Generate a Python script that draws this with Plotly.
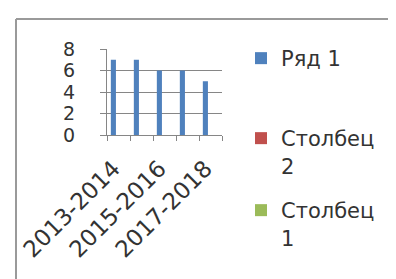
import plotly.graph_objects as go

categories = ["2013-2014", "2014-2015", "2015-2016", "2016-2017", "2017-2018"]
tick_labels = ["2013-2014", "", "2015-2016", "", "2017-2018"]
series_names = ["Ряд 1", "Столбец<br>2", "Столбец<br>1"]
series1 = [7, 7, 6, 6, 5]
series2 = [None, None, None, None, None]
series3 = [None, None, None, None, None]
colors = ["#4F81BD", "#C0504D", "#9BBB59"]

W, H = 396, 279
ML, MR, MT, MB = 99, 182, 41, 152
PW = W - ML - MR
PH = H - MT - MB

def px_x(p):
    return (p - ML) / PW

def px_y(p):
    return 1 - (p - MT) / PH

FONT = "DejaVu Sans"
TXT = "#333333"

fig = go.Figure()
for i, (name, vals) in enumerate(zip(series_names, [series1, series2, series3])):
    fig.add_trace(go.Bar(
        x=categories, y=vals, name=name,
        marker=dict(color=colors[i], line=dict(width=0)),
        legend="legend" if i == 0 else f"legend{i+1}",
    ))

legend_common = dict(
    xanchor="left", yanchor="top", bgcolor="rgba(0,0,0,0)",
    font=dict(family=FONT, size=21, color=TXT), valign="top",
)
fig.update_layout(
    width=W, height=H,
    margin=dict(l=ML, r=MR, t=MT, b=MB, autoexpand=False),
    paper_bgcolor="white", plot_bgcolor="white",
    barmode="group", bargap=1.5 / 4.5, bargroupgap=0,
    showlegend=True,
    legend=dict(x=px_x(233), y=px_y(30), **legend_common),
    legend2=dict(x=px_x(233), y=px_y(110), **legend_common),
    legend3=dict(x=px_x(233), y=px_y(182), **legend_common),
    font=dict(family=FONT, color=TXT),
    xaxis=dict(
        type="category", tickson="boundaries",
        tickmode="array", tickvals=categories, ticktext=tick_labels,
        tickangle=-45, ticks="outside", ticklen=5, tickcolor="#868686",
        showline=True, linecolor="#868686", linewidth=1,
        showgrid=False, tickfont=dict(family=FONT, size=23, color=TXT),
        ticklabelstandoff=10, ticklabelshift=-5, automargin=False,
    ),
    yaxis=dict(
        range=[0, 8], dtick=2, tick0=0,
        ticks="outside", ticklen=6, tickcolor="#868686",
        showline=True, linecolor="#868686", linewidth=1,
        showgrid=True, gridcolor="#868686", gridwidth=1, zeroline=False,
        tickfont=dict(family=FONT, size=19, color=TXT),
        ticklabelstandoff=21, automargin=False,
    ),
)

# chart frame
fig.add_shape(type="line", xref="paper", yref="paper",
              x0=px_x(8), x1=px_x(8), y0=px_y(11), y1=px_y(285),
              line=dict(color="#9a9a9a", width=2))
fig.add_shape(type="line", xref="paper", yref="paper",
              x0=px_x(8), x1=px_x(392), y0=px_y(11), y1=px_y(11),
              line=dict(color="#9a9a9a", width=2))
fig.add_shape(type="line", xref="paper", yref="paper",
              x0=px_x(392), x1=px_x(392), y0=px_y(11), y1=px_y(285),
              line=dict(color="#e4e4e4", width=1))

fig.write_html("out.html")
